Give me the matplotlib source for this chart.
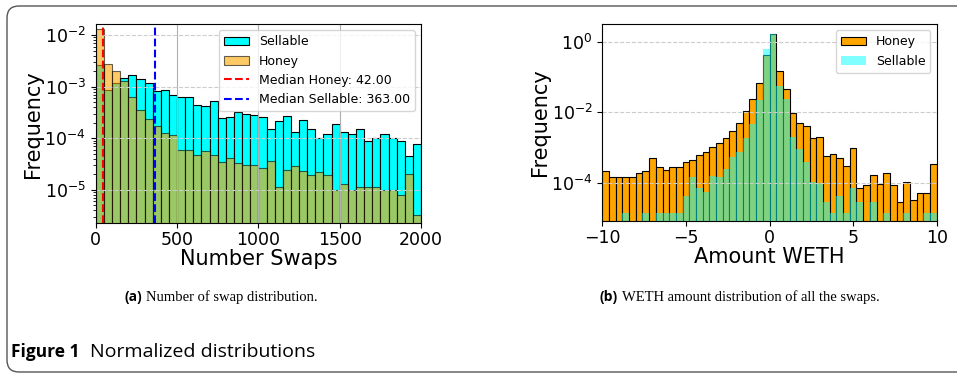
import numpy as np
import matplotlib
matplotlib.use("Agg")
import matplotlib.pyplot as plt
from matplotlib.patches import FancyBboxPatch
from matplotlib.transforms import IdentityTransform
from matplotlib.offsetbox import TextArea, HPacker, AnchoredOffsetbox

# (a) normalized histogram of number of swaps, 40 bins of width 50 over [0, 2000]
swap_edges = np.linspace(0, 2000, 41)
sellable_swaps = [2.61e-3, 8.5e-4, 1.2e-3, 1.5e-3, 1.72e-3, 1.38e-3, 1.2e-3, 8.4e-4, 8.7e-4, 6.8e-4,
                  6.3e-4, 6.3e-4, 4.5e-4, 4.2e-4, 5.2e-4, 2.5e-4, 2.6e-4, 3.2e-4, 2.9e-4, 2.8e-4,
                  2.6e-4, 1.54e-4, 2.2e-4, 2.75e-4, 1.33e-4, 2.3e-4, 1.54e-4, 9.9e-5, 1.23e-4, 1.85e-4,
                  1.33e-4, 1.23e-4, 1.54e-4, 8.9e-5, 9.9e-5, 1.23e-4, 9.9e-5, 8.9e-5, 4.5e-5, 7.9e-5]
honey_swaps = [1.3e-2, 2.8e-3, 2.03e-3, 1.3e-3, 6.3e-4, 3.5e-4, 2.37e-4, 1.76e-4, 1.27e-4, 1.18e-4,
               6.0e-5, 6.0e-5, 4.7e-5, 5.6e-5, 4.7e-5, 3.5e-5, 4.2e-5, 3.3e-5, 3.0e-5, 3.0e-5,
               2.6e-5, 3.6e-5, 1.13e-5, 2.4e-5, 2.86e-5, 2.3e-5, 1.9e-5, 2.2e-5, 1.9e-5, 9.8e-6,
               1.28e-5, 9.8e-6, 1.13e-5, 1.13e-5, 1.13e-5, 9.8e-6, 9.8e-6, 8.1e-6, 2.06e-5, 3.3e-6]
median_honey = 42.0
median_sellable = 363.0

# (b) normalized histogram of WETH amounts, 50 bins of width 0.4 over [-10, 10]
weth_edges = np.linspace(-10, 10, 51)
honey_weth = [2.19e-4, 1.48e-4, 1.48e-4, 1.48e-4, 1.42e-4, 1.85e-4, 2.19e-4, 4.9e-4, 2.73e-4, 2.29e-4,
              2.84e-4, 2.73e-4, 4.0e-4, 4.4e-4, 6.0e-4, 7.4e-4, 1.01e-3, 1.31e-3, 1.82e-3, 2.87e-3,
              4.8e-3, 1.06e-2, 2.42e-2, 6.6e-2, 0.42, 1.72, 0.150, 0.0447, 9.3e-3, 5.0e-3,
              4.07e-3, 1.82e-3, 1.94e-3, 5.8e-4, 6.4e-4, 5.1e-4, 3.0e-4, 9.8e-4, 6.9e-5, 8.6e-5,
              1.69e-4, 9.0e-5, 1.92e-4, 8.6e-5, 2.78e-5, 1.03e-4, 3.2e-5, 5.0e-5, 5.0e-5, 3.3e-4]
sellable_weth = [0, 0, 0, 1.41e-5, 0, 0, 1.41e-5, 0, 1.41e-5, 1.41e-5,
                 1.41e-5, 1.41e-5, 4.3e-5, 1.45e-4, 6.9e-5, 5.6e-5, 1.55e-4, 1.42e-4, 2.4e-4, 5.3e-4,
                 7.3e-4, 1.82e-3, 4.7e-3, 2.18e-2, 0.61, 1.72, 0.0565, 0.0232, 1.94e-3, 8.9e-4,
                 4.0e-4, 1.07e-4, 9.6e-5, 2.9e-5, 1.41e-5, 4.2e-5, 1.41e-5, 6.9e-5, 2.78e-5, 0,
                 2.78e-5, 0, 1.41e-5, 0, 0, 1.41e-5, 0, 0, 1.41e-5, 1.41e-5]


def hist_bars(ax, edges, values, **kw):
    values = np.asarray(values, dtype=float)
    keep = values > 0
    left = edges[:-1][keep]
    width = np.diff(edges)[keep]
    return ax.bar(left, values[keep], width=width, align='edge', bottom=1e-9, **kw)


def text_row(fig, x, y, parts, loc, sep=3):
    boxes = [TextArea(t, textprops=props) for t, props in parts]
    pack = HPacker(children=boxes, pad=0, sep=sep, align='baseline')
    box = AnchoredOffsetbox(loc=loc, child=pack, pad=0, borderpad=0, frameon=False,
                            bbox_to_anchor=(x, y), bbox_transform=fig.transFigure)
    fig.add_artist(box)


fig = plt.figure(figsize=(9.57, 3.75), dpi=100)

# panel frame, open on the right (pixel coordinates)
fig.add_artist(FancyBboxPatch((7, 3), 1200, 366, boxstyle="round,pad=0,rounding_size=12",
                              transform=IdentityTransform(), fill=False,
                              edgecolor='#555555', lw=1.0))

ax1 = fig.add_axes([0.100, 0.4045, 0.340, 0.5315])
ax1.set_yscale('log')
b_sell = hist_bars(ax1, swap_edges, sellable_swaps, color='cyan', edgecolor='black', linewidth=0.8,
                   label='Sellable')
b_honey = hist_bars(ax1, swap_edges, honey_swaps, color='orange', alpha=0.6, edgecolor='black',
                    linewidth=0.8, label='Honey')
l_honey = ax1.axvline(median_honey, color='red', linestyle='--', linewidth=1.5,
                      label=f'Median Honey: {median_honey:.2f}')
l_sell = ax1.axvline(median_sellable, color='blue', linestyle='--', linewidth=1.5,
                     label=f'Median Sellable: {median_sellable:.2f}')
ax1.set_xlim(0, 2000)
ax1.set_ylim(2.24e-6, 1.64e-2)
ax1.set_xticks([0, 500, 1000, 1500, 2000])
ax1.grid(axis='x', color='#b0b0b0', linewidth=0.8)
ax1.grid(axis='y', color='#cccccc', linestyle='--', linewidth=0.8)
ax1.tick_params(labelsize=12.5)
ax1.tick_params(axis='x', pad=2)
ax1.set_xlabel('Number Swaps', fontsize=15, labelpad=0)
ax1.set_ylabel('Frequency', fontsize=15, labelpad=1)
ax1.legend(handles=[b_sell, b_honey, l_honey, l_sell], loc='upper right', fontsize=9)

ax2 = fig.add_axes([0.6294, 0.4107, 0.3494, 0.525])
ax2.set_yscale('log')
hist_bars(ax2, weth_edges, honey_weth, color='orange', edgecolor='black', linewidth=0.8, label='Honey')
hist_bars(ax2, weth_edges, sellable_weth, color='cyan', alpha=0.5, edgecolor='none', label='Sellable')
ax2.set_xlim(-10, 10)
ax2.set_ylim(8.2e-6, 3.18)
ax2.set_xticks([-10, -5, 0, 5, 10])
ax2.set_yticks([1e-4, 1e-2, 1e0])
ax2.yaxis.set_minor_locator(matplotlib.ticker.NullLocator())
ax2.grid(axis='y', color='#cccccc', linestyle='--', linewidth=0.8)
ax2.tick_params(labelsize=12.5)
ax2.tick_params(axis='x', pad=2)
ax2.set_xlabel('Amount WETH', fontsize=15, labelpad=0)
ax2.set_ylabel('Frequency', fontsize=15, labelpad=1)
ax2.legend(loc='upper right', fontsize=9)

bold_sans = dict(family='Open Sans', weight='bold', size=10)
serif = dict(family='Liberation Serif', size=10.5)
text_row(fig, 0.231, 0.208, [('(a)', bold_sans), ('Number of swap distribution.', serif)], 'center')
text_row(fig, 0.773, 0.208, [('(b)', bold_sans), ('WETH amount distribution of all the swaps.', serif)],
         'center')
text_row(fig, 0.012, 0.062, [('Figure 1', dict(family='Open Sans', weight='bold', size=12.5)),
                             ('Normalized distributions', dict(family='Open Sans', size=14))],
         'center left', sep=7)

fig.savefig('out.png', dpi=100)
